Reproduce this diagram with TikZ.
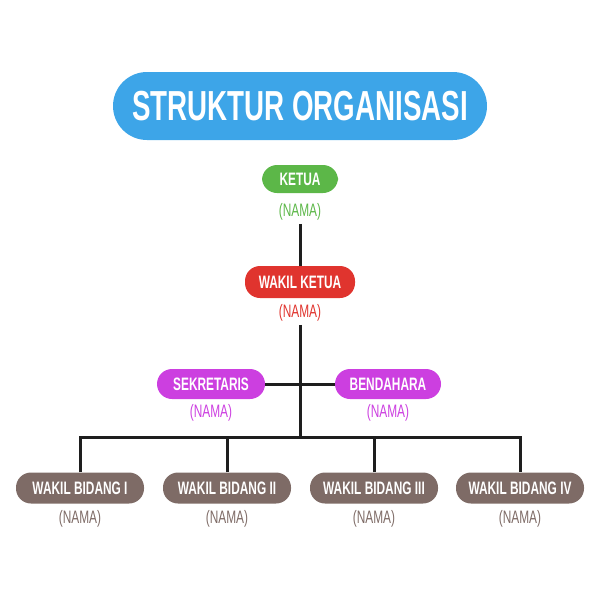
\documentclass[tikz,border=0pt]{standalone}
\usepackage{fontspec}
\newfontfamily\cond[FakeStretch=0.66]{Liberation Sans}
\definecolor{tblue}{HTML}{3DA5E8}
\definecolor{tgreen}{HTML}{5CB748}
\definecolor{tred}{HTML}{E0342E}
\definecolor{tpurp}{HTML}{CC3FE0}
\definecolor{tbrown}{HTML}{7E6B66}
\definecolor{tline}{HTML}{1E1E1E}
\tikzset{
 pill/.style={rounded corners=15pt, inner sep=0pt, text=white, font=\cond\bfseries\fontsize{18}{18}\selectfont},
 nm/.style={font=\cond\fontsize{18}{18}\selectfont},
 ln/.style={line width=3pt, draw=tline}
}
\begin{document}
\begin{tikzpicture}[x=1pt,y=-1pt]
\useasboundingbox (0,0) rectangle (600,600);
\node[pill, fill=tblue, rounded corners=34pt, minimum width=374pt, minimum height=68pt, font=\cond\bfseries\fontsize{42}{42}\selectfont] (title) at (300,106) {STRUKTUR ORGANISASI};
\node[pill, fill=tgreen, minimum width=76pt, minimum height=28pt] (ketua) at (300,179) {KETUA};
\node[nm, text=tgreen] (n1) at (300,212) {(NAMA)};
\node[pill, fill=tred, minimum width=110pt, minimum height=32pt] (wk) at (300,282) {WAKIL KETUA};
\node[nm, text=tred] (n2) at (300,313) {(NAMA)};
\node[pill, fill=tpurp, minimum width=108pt, minimum height=30pt] (sek) at (211,384) {SEKRETARIS};
\node[nm, text=tpurp] (n3) at (211,413) {(NAMA)};
\node[pill, fill=tpurp, minimum width=106pt, minimum height=30pt] (ben) at (388,384) {BENDAHARA};
\node[nm, text=tpurp] (n4) at (388,413) {(NAMA)};
\foreach \x/\l/\i in {80/I/1,227/II/2,374/III/3,520/IV/4}{
 \node[pill, fill=tbrown, minimum width=128pt, minimum height=31pt] (wb\i) at (\x,488) {WAKIL BIDANG \l};
 \node[nm, text=tbrown] (nb\i) at (\x,519) {(NAMA)};
}
\coordinate (j1) at (300,383);
\coordinate (j2) at (300,437);
\draw[ln] (n1.south) -- (wk.north);
\draw[ln] (n2.south) -- (j2);
\draw[ln] (sek.east) -- (ben.west);
\draw[ln] (wb1.north) |- (j2) -| (wb4.north);
\draw[ln] (wb2.north) -- (wb2.north |- j2);
\draw[ln] (wb3.north) -- (wb3.north |- j2);
\end{tikzpicture}
\end{document}
